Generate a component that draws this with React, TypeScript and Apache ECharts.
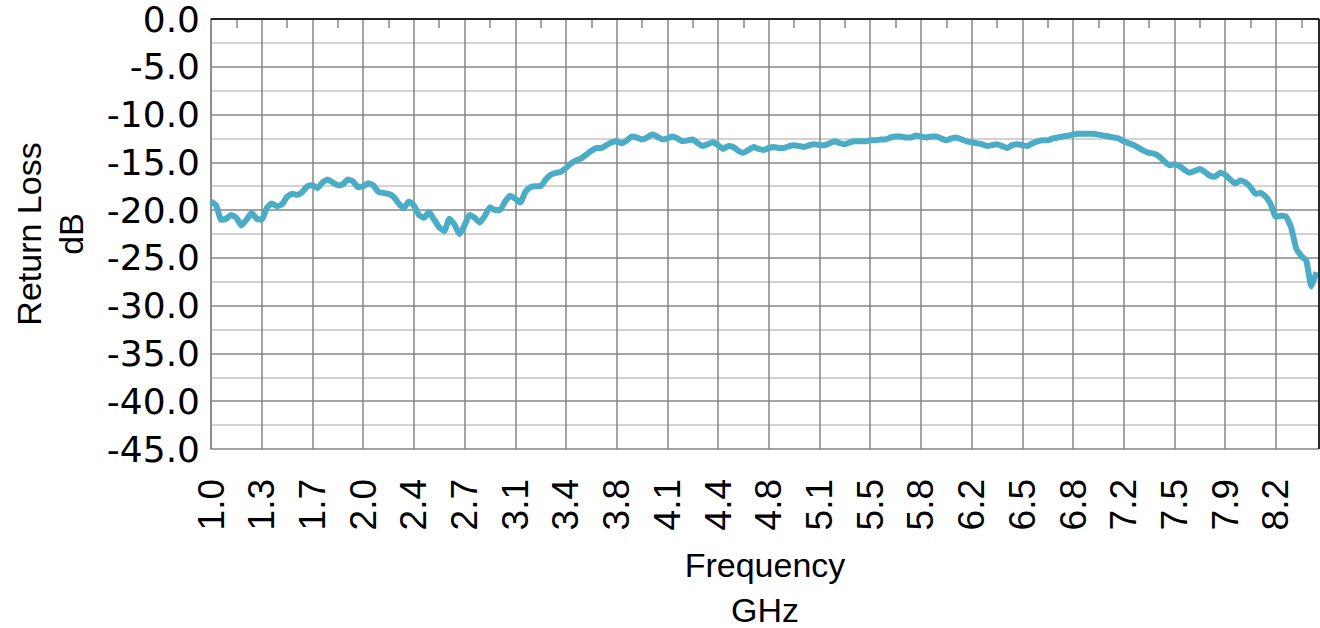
import React, { useEffect, useRef } from "react";
import * as echarts from "echarts";

// Frequency tick labels (GHz), one per vertical gridline (every 10 samples)
const FREQ_LABELS = [
  "1.0", "1.3", "1.7", "2.0", "2.4", "2.7", "3.1", "3.4", "3.8", "4.1", "4.4",
  "4.8", "5.1", "5.5", "5.8", "6.2", "6.5", "6.8", "7.2", "7.5", "7.9", "8.2",
];

// Return loss (dB), sampled uniformly along the sweep (10 samples per label interval)
const RETURN_LOSS = [
  -19.1, -19.5, -21.0, -20.9, -20.5, -20.8, -21.6, -21.0, -20.3, -20.9,
  -21.0, -19.8, -19.3, -19.6, -19.4, -18.6, -18.3, -18.4, -18.1, -17.5,
  -17.4, -17.7, -17.1, -16.8, -17.1, -17.4, -17.3, -16.8, -17.0, -17.6,
  -17.5, -17.2, -17.4, -18.1, -18.2, -18.3, -18.6, -19.3, -19.8, -19.1,
  -19.5, -20.5, -20.8, -20.2, -21.0, -21.8, -22.2, -20.9, -21.5, -22.5,
  -21.6, -20.5, -20.8, -21.3, -20.6, -19.7, -20.0, -20.0, -19.1, -18.5,
  -18.8, -19.2, -18.1, -17.6, -17.5, -17.5, -16.8, -16.3, -16.1, -16.0,
  -15.6, -15.1, -14.8, -14.6, -14.2, -13.8, -13.5, -13.5, -13.2, -12.9,
  -12.8, -13.0, -12.7, -12.3, -12.4, -12.6, -12.4, -12.1, -12.3, -12.6,
  -12.5, -12.3, -12.5, -12.8, -12.7, -12.6, -13.0, -13.3, -13.1, -12.9,
  -13.2, -13.6, -13.3, -13.4, -13.8, -14.0, -13.7, -13.4, -13.6, -13.7,
  -13.5, -13.4, -13.5, -13.5, -13.3, -13.2, -13.3, -13.4, -13.2, -13.1,
  -13.2, -13.2, -13.0, -12.8, -13.0, -13.1, -12.9, -12.8, -12.8, -12.8,
  -12.7, -12.7, -12.6, -12.6, -12.4, -12.3, -12.3, -12.4, -12.4, -12.2,
  -12.3, -12.4, -12.3, -12.3, -12.5, -12.7, -12.5, -12.4, -12.6, -12.8,
  -12.9, -13.0, -13.1, -13.3, -13.2, -13.1, -13.3, -13.5, -13.2, -13.1,
  -13.2, -13.3, -13.0, -12.8, -12.7, -12.7, -12.5, -12.4, -12.3, -12.2,
  -12.1, -12.0, -12.0, -12.0, -12.0, -12.1, -12.2, -12.3, -12.4, -12.5,
  -12.8, -13.0, -13.2, -13.5, -13.8, -14.0, -14.1, -14.4, -14.9, -15.3,
  -15.2, -15.4, -15.8, -16.1, -15.9, -15.7, -16.0, -16.4, -16.5, -16.1,
  -16.3, -16.8, -17.2, -16.9, -17.1, -17.6, -18.3, -18.2, -18.6, -19.4,
  -20.7, -20.6, -20.7, -21.8, -24.0, -24.8, -25.3, -28.0, -26.5,
];

const Y_MIN = -45;
const Y_MAX = 0;
const Y_STEP = 5;
const X_STEP = 10;
const X_MAX = 218.5;

const FONT = "'Liberation Sans', Arial, sans-serif";
const Y_FONT = "'DejaVu Sans', 'Liberation Sans', sans-serif";

export default function App() {
  const ref = useRef<HTMLDivElement>(null);

  useEffect(() => {
    if (!ref.current) return;
    const chart = echarts.init(ref.current, undefined, { renderer: "svg" });
    const L = 211, T = 19, R = 1319, B = 449;
    chart.setOption({
      animation: false,
      backgroundColor: "#ffffff",
      grid: { left: L, top: T, right: 1320 - R, bottom: 628 - B, containLabel: false },
      xAxis: {
        type: "value",
        min: 0,
        max: X_MAX,
        interval: X_STEP,
        axisLine: { show: true, lineStyle: { color: "#868686", width: 1.5 } },
        axisTick: { show: false },
        minorTick: { show: true, splitNumber: 2, length: 9, lineStyle: { color: "#868686", width: 1.5 } },
        splitLine: { show: true, lineStyle: { color: "#868686", width: 1.5 } },
        axisLabel: {
          rotate: 90,
          margin: 30,
          fontSize: 37,
          fontFamily: FONT,
          color: "#000",
          showMaxLabel: false,
          formatter: (v: number) => {
            const k = v / X_STEP;
            return Number.isInteger(k) ? FREQ_LABELS[k] ?? "" : "";
          },
        },
      },
      yAxis: {
        type: "value",
        min: Y_MIN,
        max: Y_MAX,
        interval: Y_STEP,
        axisLine: { show: true, lineStyle: { color: "#868686", width: 1.5 } },
        axisTick: { show: false },
        minorTick: { show: false, splitNumber: 2 },
        minorSplitLine: { show: true, lineStyle: { color: "#c4c4c4", width: 1.5 } },
        splitLine: { show: true, lineStyle: { color: "#868686", width: 1.5 } },
        axisLabel: {
          margin: 11,
          fontSize: 36,
          fontFamily: Y_FONT,
          color: "#000",
          formatter: (v: number) => v.toFixed(1),
        },
      },
      series: [
        {
          type: "line",
          data: RETURN_LOSS.map((v, i) => [i, v]),
          showSymbol: false,
          smooth: 0.15,
          lineStyle: { color: "#4BACC6", width: 6 },
          itemStyle: { color: "#4BACC6" },
          z: 3,
        },
      ],
      graphic: [
        { type: "line", shape: { x1: L, y1: T, x2: R, y2: T }, style: { stroke: "#000", lineWidth: 1.5 }, z: 10 },
        { type: "line", shape: { x1: R, y1: T, x2: R, y2: B }, style: { stroke: "#000", lineWidth: 1.5 }, z: 10 },
        {
          type: "text",
          x: 29, y: (T + B) / 2, rotation: Math.PI / 2,
          style: { text: "Return Loss", fontSize: 34, fontFamily: FONT, fill: "#000", align: "center", verticalAlign: "middle" },
        },
        {
          type: "text",
          x: 71, y: (T + B) / 2, rotation: Math.PI / 2,
          style: { text: "dB", fontSize: 34, fontFamily: FONT, fill: "#000", align: "center", verticalAlign: "middle" },
        },
        {
          type: "text",
          x: (L + R) / 2, y: 565,
          style: { text: "Frequency", fontSize: 34, fontFamily: FONT, fill: "#000", align: "center", verticalAlign: "middle" },
        },
        {
          type: "text",
          x: (L + R) / 2, y: 610,
          style: { text: "GHz", fontSize: 34, fontFamily: FONT, fill: "#000", align: "center", verticalAlign: "middle" },
        },
      ],
    });
    return () => chart.dispose();
  }, []);

  return (
    <div
      ref={ref}
      style={{ position: "fixed", left: 0, top: 0, width: 1320, height: 628 }}
    />
  );
}
